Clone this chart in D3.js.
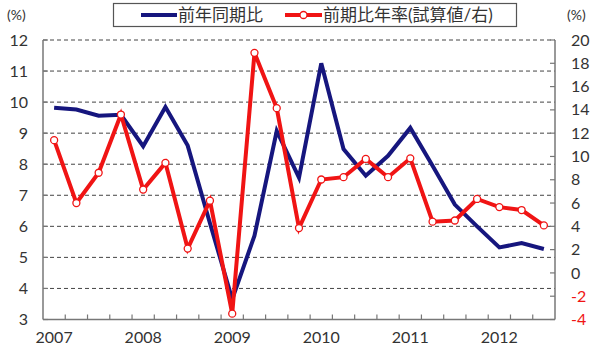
<!DOCTYPE html>
<html>
<head>
<meta charset="utf-8">
<script src="https://cdn.jsdelivr.net/npm/d3@7"></script>
<style>
  body { margin: 0; background: #fff; }
  text { font-family: Lato, "Noto Sans CJK JP", sans-serif; fill: #333; }
</style>
</head>
<body>
<script>
var width = 592;
var height = 349;

// quarterly, 2007Q1 .. 2012Q3
var quarters = ['2007Q1','2007Q2','2007Q3','2007Q4','2008Q1','2008Q2','2008Q3','2008Q4',
  '2009Q1','2009Q2','2009Q3','2009Q4','2010Q1','2010Q2','2010Q3','2010Q4',
  '2011Q1','2011Q2','2011Q3','2011Q4','2012Q1','2012Q2','2012Q3'];

// 前年同期比 (left axis)
var yoy = [9.82, 9.76, 9.56, 9.59, 8.58, 9.84, 8.6, 6.1,
  3.65, 5.7, 9.07, 7.57, 11.25, 8.49, 7.63, 8.27,
  9.17, 7.95, 6.7, 6.0, 5.32, 5.46, 5.27];

// 前期比年率 (right axis)
var qoq = [11.4, 6.0, 8.6, 13.6, 7.16, 9.45, 2.09, 6.2,
  -3.5, 18.9, 14.15, 3.85, 8.02, 8.22, 9.79, 8.22,
  9.84, 4.4, 4.5, 6.35, 5.65, 5.4, 4.08];

var yearLabels = ['2007', '2008', '2009', '2010', '2011', '2012'];
var leftTicks = [3, 4, 5, 6, 7, 8, 9, 10, 11, 12];
var rightTicks = [-4, -2, 0, 2, 4, 6, 8, 10, 12, 14, 16, 18, 20];
var legendNames = ['前年同期比', '前期比年率(試算値/右)'];

var blue = '#16167e';
var red = '#f01414';

var pLeft = 43, pRight = 555, pTop = 40, pBottom = 319.5;

var svg = d3.select('body').append('svg')
    .attr('width', width)
    .attr('height', height);

var x = d3.scaleBand()
    .domain(d3.range(quarters.length))
    .range([pLeft, pRight]);

var yL = d3.scaleLinear().domain([3, 12]).range([pBottom, pTop]);
var yR = d3.scaleLinear().domain([-4, 20]).range([pBottom, pTop]);

function cx(i) { return x(i) + x.bandwidth() / 2; }

// gridlines
svg.append('g').selectAll('line')
    .data(leftTicks.filter(function(d) { return d > 3; }))
  .enter().append('line')
    .attr('x1', pLeft).attr('x2', pRight)
    .attr('y1', function(d) { return yL(d); })
    .attr('y2', function(d) { return yL(d); })
    .attr('stroke', '#444')
    .attr('stroke-width', 1)
    .attr('stroke-dasharray', '4,3');

// axes lines
var axisColor = '#777';
svg.append('line').attr('x1', pLeft).attr('x2', pLeft).attr('y1', pTop).attr('y2', pBottom)
    .attr('stroke', axisColor).attr('stroke-width', 1.5);
svg.append('line').attr('x1', pRight).attr('x2', pRight).attr('y1', pTop).attr('y2', pBottom)
    .attr('stroke', axisColor).attr('stroke-width', 1.5);
svg.append('line').attr('x1', pLeft).attr('x2', pRight).attr('y1', pBottom).attr('y2', pBottom)
    .attr('stroke', axisColor).attr('stroke-width', 1.5);

// left ticks (inward)
svg.append('g').selectAll('line')
    .data(leftTicks)
  .enter().append('line')
    .attr('x1', pLeft).attr('x2', pLeft + 5)
    .attr('y1', function(d) { return yL(d); })
    .attr('y2', function(d) { return yL(d); })
    .attr('stroke', axisColor).attr('stroke-width', 1.2);

svg.append('g').selectAll('text')
    .data(leftTicks)
  .enter().append('text')
    .attr('x', 28)
    .attr('y', function(d) { return yL(d); })
    .attr('dy', '.35em')
    .attr('text-anchor', 'end')
    .style('font-size', '16px')
    .text(function(d) { return d; });

// right ticks (inward)
svg.append('g').selectAll('line')
    .data(rightTicks)
  .enter().append('line')
    .attr('x1', pRight - 5).attr('x2', pRight)
    .attr('y1', function(d) { return yR(d); })
    .attr('y2', function(d) { return yR(d); })
    .attr('stroke', axisColor).attr('stroke-width', 1.2);

svg.append('g').selectAll('text')
    .data(rightTicks)
  .enter().append('text')
    .attr('x', 571)
    .attr('y', function(d) { return yR(d); })
    .attr('dy', '.35em')
    .attr('text-anchor', 'start')
    .style('font-size', '16px')
    .style('fill', function(d) { return d < 0 ? red : '#333'; })
    .text(function(d) { return d; });

// x ticks between quarters
svg.append('g').selectAll('line')
    .data(d3.range(1, quarters.length))
  .enter().append('line')
    .attr('x1', function(i) { return x(i); })
    .attr('x2', function(i) { return x(i); })
    .attr('y1', pBottom).attr('y2', pBottom - 5)
    .attr('stroke', axisColor).attr('stroke-width', 1.2);

svg.append('g').selectAll('text')
    .data(yearLabels)
  .enter().append('text')
    .attr('x', function(d, i) { return cx(i * 4); })
    .attr('y', 343)
    .attr('text-anchor', 'middle')
    .style('font-size', '16px')
    .text(function(d) { return d; });

// unit labels
svg.append('text').attr('x', 7).attr('y', 20).style('font-size', '14px').text('(%)');
svg.append('text').attr('x', 567).attr('y', 20).style('font-size', '14px').text('(%)');

// lines
var lineL = d3.line()
    .x(function(d, i) { return cx(i); })
    .y(function(d) { return yL(d); });
var lineR = d3.line()
    .x(function(d, i) { return cx(i); })
    .y(function(d) { return yR(d); });

svg.append('path')
    .datum(yoy)
    .attr('d', lineL)
    .attr('fill', 'none')
    .attr('stroke', blue)
    .attr('stroke-width', 4)
    .attr('stroke-linejoin', 'miter');

svg.append('path')
    .datum(qoq)
    .attr('d', lineR)
    .attr('fill', 'none')
    .attr('stroke', red)
    .attr('stroke-width', 4)
    .attr('stroke-linejoin', 'miter');

svg.append('g').selectAll('circle')
    .data(qoq)
  .enter().append('circle')
    .attr('cx', function(d, i) { return cx(i); })
    .attr('cy', function(d) { return yR(d); })
    .attr('r', 3.5)
    .attr('fill', '#fff')
    .attr('stroke', red)
    .attr('stroke-width', 1.3);

// legend
var lg = svg.append('g');
lg.append('rect')
    .attr('x', 113.5).attr('y', 3.5)
    .attr('width', 403).attr('height', 23)
    .attr('fill', '#fff')
    .attr('stroke', '#555')
    .attr('stroke-width', 1.2);

lg.append('line')
    .attr('x1', 141).attr('x2', 177).attr('y1', 15).attr('y2', 15)
    .attr('stroke', blue).attr('stroke-width', 4);
lg.append('text')
    .attr('x', 178).attr('y', 15).attr('dy', '.36em')
    .style('font-size', '17px')
    .text(legendNames[0]);

lg.append('line')
    .attr('x1', 285).attr('x2', 322).attr('y1', 15).attr('y2', 15)
    .attr('stroke', red).attr('stroke-width', 4);
lg.append('circle')
    .attr('cx', 303.5).attr('cy', 15).attr('r', 3.5)
    .attr('fill', '#fff').attr('stroke', red).attr('stroke-width', 1.3);
lg.append('text')
    .attr('x', 323).attr('y', 15).attr('dy', '.36em')
    .style('font-size', '17px')
    .text(legendNames[1]);
</script>
</body>
</html>
